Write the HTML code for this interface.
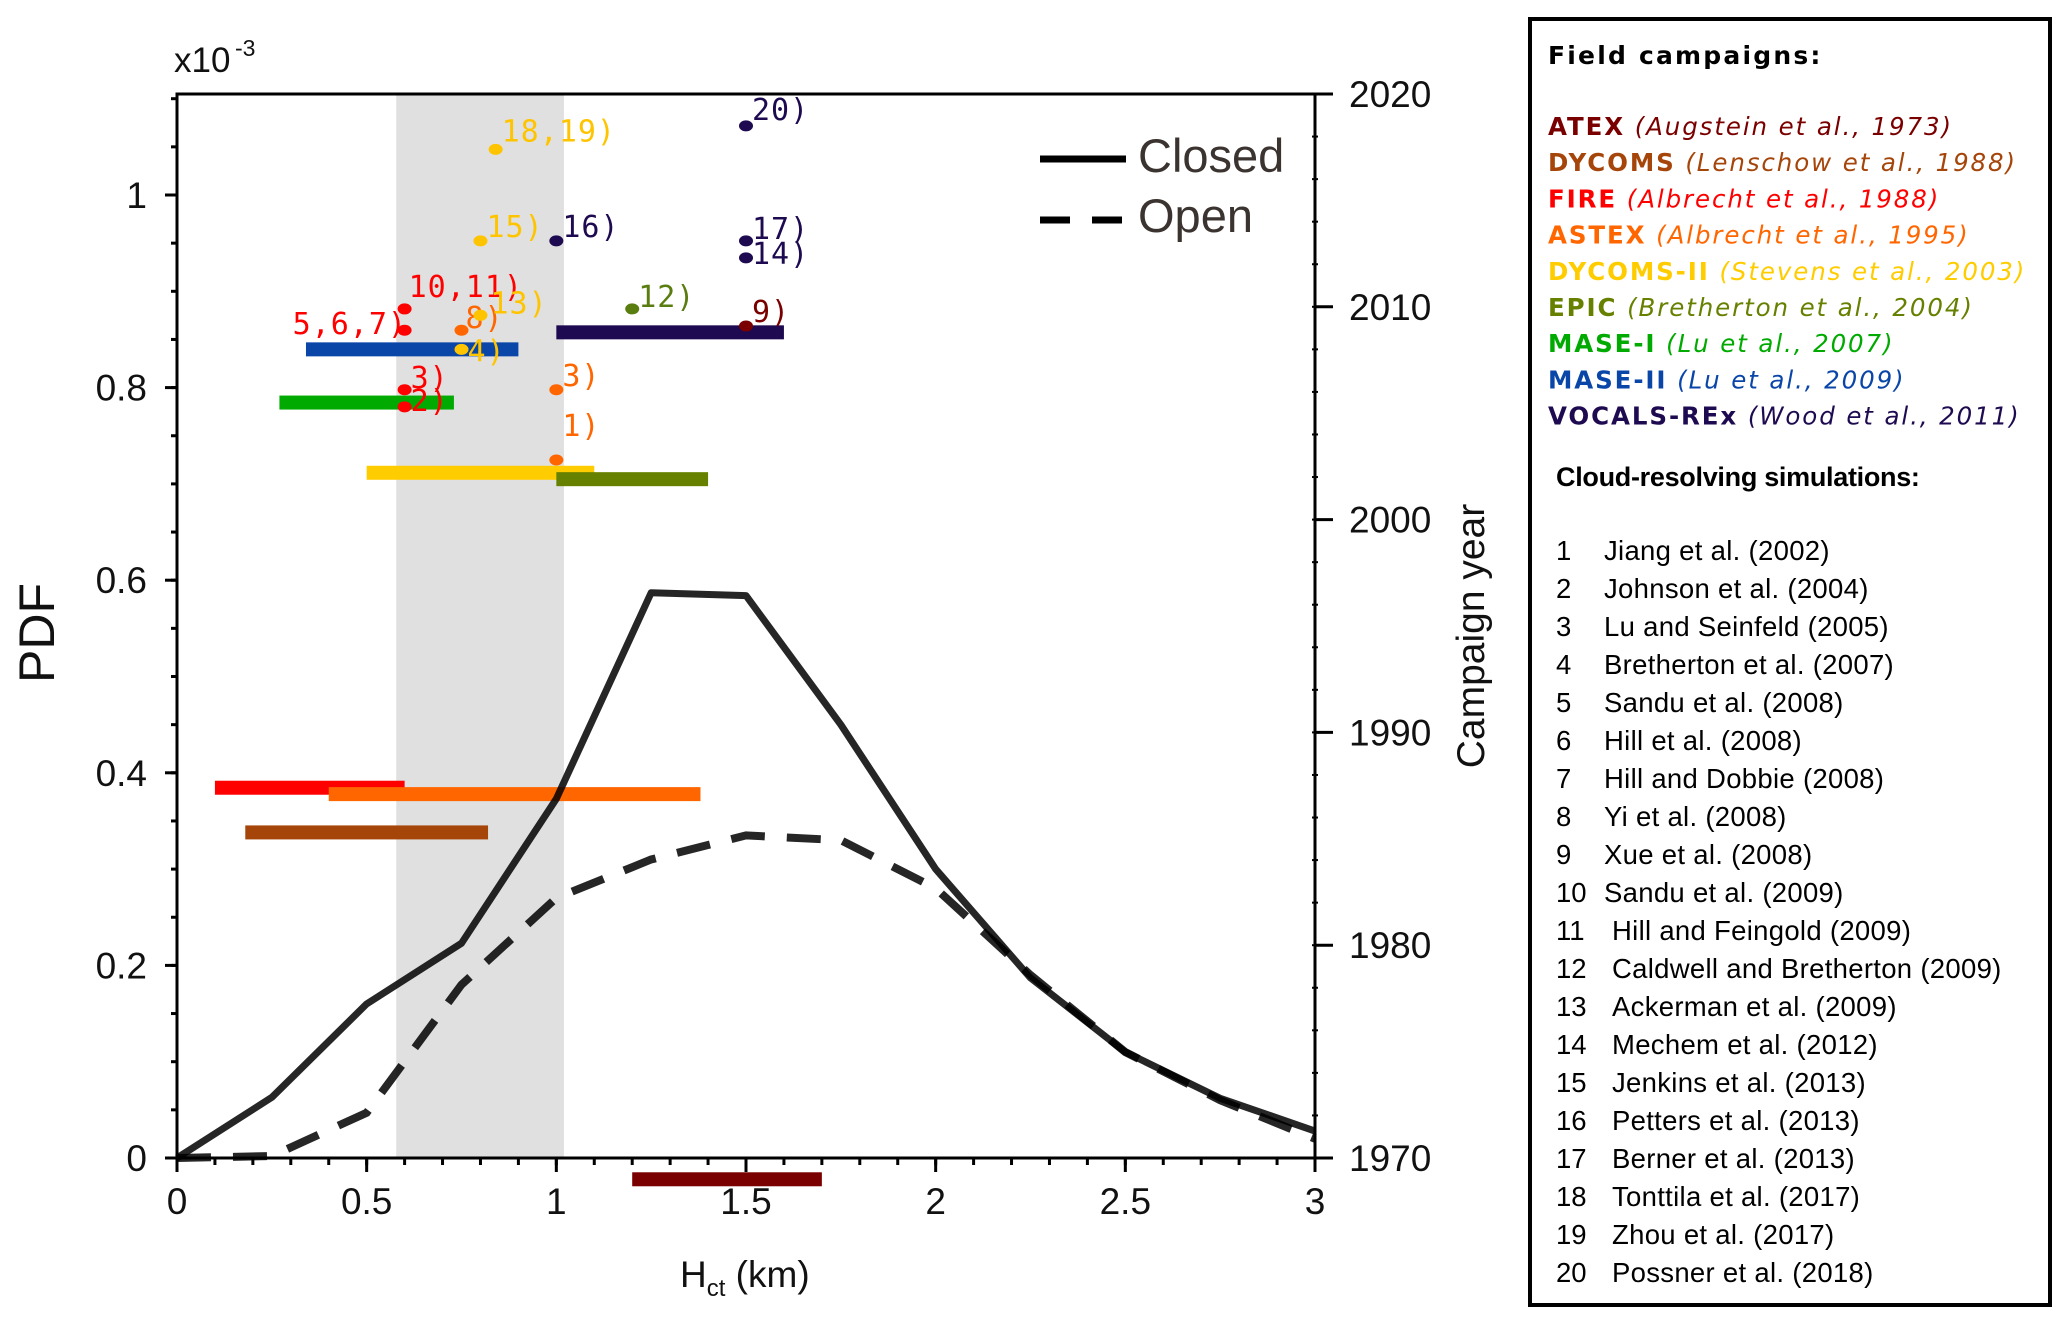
<!DOCTYPE html>
<html><head><meta charset="utf-8"><style>
html,body{margin:0;padding:0;background:#fff;}
svg{display:block;font-family:"Liberation Sans",sans-serif;}
</style></head><body>
<svg id="chart" width="2067" height="1317" viewBox="0 0 2067 1317">
<g id="plot"></g>
<g id="legendbox">
<rect x="1530" y="19" width="520" height="1286" fill="none" stroke="#000" stroke-width="4"/>
</g>
</svg>
<script>
// ---- data ----
const hct = [0,0.25,0.5,0.75,1,1.25,1.5,1.75,2,2.25,2.5,2.75,3];
const closedPdf = [0,0.063,0.16,0.223,0.373,0.587,0.584,0.45,0.30,0.187,0.11,0.062,0.028];
const openPdf = [0,0.002,0.047,0.18,0.27,0.31,0.335,0.33,0.28,0.19,0.11,0.06,0.02];
const yTicks = [0,0.2,0.4,0.6,0.8,1];
const yTickLabels = ["0","0.2","0.4","0.6","0.8","1"];
const xTicks = [0,0.5,1,1.5,2,2.5,3];
const xTickLabels = ["0","0.5","1","1.5","2","2.5","3"];
const yearTicks = [1970,1980,1990,2000,2010,2020];
const campaignNames = ["ATEX","DYCOMS","FIRE","ASTEX","DYCOMS-II","EPIC","MASE-I","MASE-II","VOCALS-REx"];
const campaignYear = [1969,1985.3,1987.4,1987.1,2002.2,2001.9,2005.5,2008.0,2008.8];
const campaignStart = [1.2,0.18,0.1,0.4,0.5,1.0,0.27,0.34,1.0];
const campaignEnd = [1.7,0.82,0.6,1.38,1.1,1.4,0.73,0.9,1.6];
const campaignColor = ["#7a0000","#a5450a","#ff0000","#ff6600","#ffcc00","#668000","#00aa00","#0a46a8","#1e0a50"];
const simLabels = ["20)","18,19)","15)","16)","17)","14)","10,11)","12)","5,6,7)","8)","13)","9)","4)","3)","3)","2)","1)"];
const simHct = [1.5,0.84,0.8,1.0,1.5,1.5,0.6,1.2,0.6,0.75,0.8,1.5,0.75,0.6,1.0,0.6,1.0];
const simYear = [2018.5,2017.4,2013.1,2013.1,2013.1,2012.3,2009.9,2009.9,2008.9,2008.9,2009.6,2009.1,2008.0,2006.1,2006.1,2005.3,2002.8];
const simColor = ["#1e0a50","#ffc400","#ffc400","#1e0a50","#1e0a50","#1e0a50","#ff0000","#5a7d10","#ff0000","#ff6600","#ffc400","#7a0000","#ffc400","#ff0000","#ff6600","#ff0000","#ff6600"];
// label offsets (style)
const labDx = [6,6,6,6,6,6,4,6,-112,4,10,6,6,6,6,6,6];
const labDy = [-6,-8,-4,-4,-2,6,-12,-2,4,-2,-2,-4,12,-2,-4,4,-24];

// ---- axes ----
const X0=177, X1=1315, Y0=1158, YT=94;
const xs = v => X0 + v/3*(X1-X0);
const ys = v => Y0 - v*963;
const yy = yr => Y0 - (yr-1970)/50*(Y0-YT);
const NS="http://www.w3.org/2000/svg";
const plot=document.getElementById('plot');
function mk(tag,attrs,parent,text){const e=document.createElementNS(NS,tag);for(const k in attrs)e.setAttribute(k,attrs[k]);if(text!==undefined)e.textContent=text;(parent||plot).appendChild(e);return e;}

let band=mk('rect',{x:xs(0.578),y:YT,width:xs(1.02)-xs(0.578),height:Y0-YT,fill:'#e0e0e0'});



let fr=mk('path',{d:`M${X0} ${Y0} L${X0} ${YT} L${X1} ${YT} L${X1} ${Y0} Z`,fill:'none',stroke:'#000','stroke-width':3});



for(let v=0;v<=1.1001;v+=0.05){mk('line',{x1:X0-6,x2:X0,y1:ys(v),y2:ys(v),stroke:'#000','stroke-width':3});}
yTicks.forEach((v,i)=>{
  mk('line',{x1:X0-12,x2:X0,y1:ys(v),y2:ys(v),stroke:'#000','stroke-width':3});
  const t=mk('text',{x:X0-30,y:ys(v)+13,'text-anchor':'end','font-size':37,fill:'#111'},plot,yTickLabels[i]);
  
  
});
for(let v=0;v<=3.001;v+=0.1){mk('line',{x1:xs(v),x2:xs(v),y1:Y0,y2:Y0+7,stroke:'#000','stroke-width':3});}
xTicks.forEach((v,i)=>{
  mk('line',{x1:xs(v),x2:xs(v),y1:Y0,y2:Y0+14,stroke:'#000','stroke-width':3});
  const t=mk('text',{x:xs(v),y:Y0+56,'text-anchor':'middle','font-size':37,fill:'#111'},plot,xTickLabels[i]);
  
  
});
for(let yr=1970;yr<=2020;yr+=2){mk('line',{x1:X1-3,x2:X1+3,y1:yy(yr),y2:yy(yr),stroke:'#000','stroke-width':2});}
yearTicks.forEach(yr=>{
  mk('line',{x1:X1,x2:X1+18,y1:yy(yr),y2:yy(yr),stroke:'#000','stroke-width':3});
  const t=mk('text',{x:X1+34,y:yy(yr)+13,'font-size':37,fill:'#111'},plot,String(yr));
  
  
});

let t1=mk('text',{x:174,y:72,'font-size':35,fill:'#111'},plot,'x10');


mk('text',{x:235,y:56,'font-size':23,fill:'#111'},plot,'-3');
let t2=mk('text',{x:54,y:633,'font-size':50,fill:'#111','text-anchor':'middle',transform:'rotate(-90 54 633)'},plot,'PDF');


let t3=mk('text',{x:1484,y:636,'font-size':39,fill:'#111','text-anchor':'middle',transform:'rotate(-90 1484 636)'},plot,'Campaign year');


let t4=mk('text',{x:680,y:1287,'font-size':37,fill:'#111'},plot,'');


t4.innerHTML='H<tspan font-size="24" dy="9">ct</tspan><tspan dy="-9"> (km)</tspan>';

campaignNames.forEach((n,i)=>{
  const r=mk('rect',{x:xs(campaignStart[i]),y:yy(campaignYear[i])-7,width:xs(campaignEnd[i])-xs(campaignStart[i]),height:14,fill:campaignColor[i]});
  
  
});

const pts=arr=>arr.map((v,i)=>`${xs(hct[i])},${ys(v)}`).join(' ');
let lo=mk('polyline',{points:pts(openPdf),fill:'none',stroke:'#000','stroke-opacity':0.85,'stroke-width':8,'stroke-dasharray':'34 22'});


let lc=mk('polyline',{points:pts(closedPdf),fill:'none',stroke:'#000','stroke-opacity':0.85,'stroke-width':7,'stroke-linejoin':'round'});



simLabels.forEach((l,i)=>{
  const cx=xs(simHct[i]), cy=yy(simYear[i]);
  const d=mk('ellipse',{cx:cx,cy:cy,rx:7,ry:5.5,fill:simColor[i]});
  
  
  const t=mk('text',{x:cx+labDx[i],y:cy+labDy[i],'font-size':30,'font-family':'"DejaVu Sans Mono",monospace','letter-spacing':1,fill:simColor[i]},plot,l);
  
  
});

let g=mk('g',{});


mk('line',{x1:1040,x2:1126,y1:159,y2:159,stroke:'#000','stroke-width':7},g);
mk('line',{x1:1040,x2:1126,y1:220,y2:220,stroke:'#000','stroke-width':7,'stroke-dasharray':'30 22'},g);
mk('text',{x:1138,y:172,'font-size':47,fill:'#3a3330'},g,'Closed');
mk('text',{x:1138,y:232,'font-size':47,fill:'#3a3330'},g,'Open');

const lb=document.getElementById('legendbox');
const entries=[["ATEX","(Augstein et al., 1973)"],["DYCOMS","(Lenschow et al., 1988)"],["FIRE","(Albrecht et al., 1988)"],["ASTEX","(Albrecht et al., 1995)"],["DYCOMS-II","(Stevens et al., 2003)"],["EPIC","(Bretherton et al., 2004)"],["MASE-I","(Lu et al., 2007)"],["MASE-II","(Lu et al., 2009)"],["VOCALS-REx","(Wood et al., 2011)"]];
const ft=mk('text',{x:1548,y:64,'font-size':25,'font-weight':'bold','font-family':'"DejaVu Sans",sans-serif','letter-spacing':2.2,fill:'#000'},lb,'Field campaigns:');


entries.forEach((e,i)=>{
  const t=mk('text',{x:1548,y:135+i*36.2,'font-size':24.5,'font-family':'"DejaVu Sans",sans-serif','letter-spacing':1.9,fill:campaignColor[i]},lb,'');
  
  
  mk('tspan',{'font-weight':'bold'},t,e[0]);
  mk('tspan',{'font-style':'italic'},t,' '+e[1]);
});
const st=mk('text',{x:1556,y:486,'font-size':27,'font-weight':'bold',fill:'#000','letter-spacing':-0.3},lb,'Cloud-resolving simulations:');


const sims=["Jiang et al. (2002)","Johnson et al. (2004)","Lu and Seinfeld (2005)","Bretherton et al. (2007)","Sandu et al. (2008)","Hill et al. (2008)","Hill and Dobbie (2008)","Yi et al. (2008)","Xue et al. (2008)","Sandu et al. (2009)","Hill and Feingold (2009)","Caldwell and Bretherton (2009)","Ackerman et al. (2009)","Mechem et al. (2012)","Jenkins et al. (2013)","Petters et al. (2013)","Berner et al. (2013)","Tonttila et al. (2017)","Zhou et al. (2017)","Possner et al. (2018)"];
sims.forEach((s,i)=>{
  const y=560+i*38;
  const n=mk('text',{x:1556,y:y,'font-size':27.5,fill:'#000'},lb,String(i+1));
  
  
  const t=mk('text',{x:i>=10?1612:1604,y:y,'font-size':27.5,fill:'#000','letter-spacing':0.3},lb,s);
  
  
});
</script>
</body></html>
